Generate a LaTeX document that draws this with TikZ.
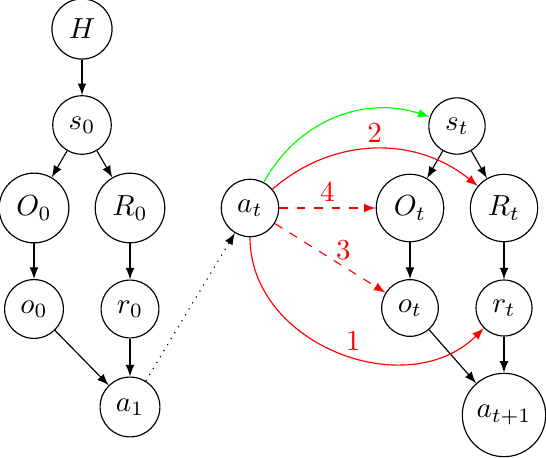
\documentclass[tikz,border=0pt]{standalone}
\usetikzlibrary{arrows}
\begin{document}
\begin{tikzpicture}[x=0.3448pt,y=-0.3448pt,
  vnode/.style={circle,draw,inner sep=0.3333em},
  arr/.style={-latex},
  lab/.style={red,inner sep=2pt}]
\useasboundingbox (0,0) rectangle (546,458);
% left chain
\node[vnode] (H)  at (82,29)  {$H$};
\node[vnode] (s0) at (82,125) {$s_0$};
\node[vnode] (O0) at (34,208) {$O_0$};
\node[vnode] (R0) at (130,208) {$R_0$};
\node[vnode] (o0) at (34,309) {$o_0$};
\node[vnode] (r0) at (130,309) {$r_0$};
\node[vnode] (a1) at (130,407) {$a_1$};
% right
\node[vnode] (at) at (250,208) {$a_t$};
\node[vnode] (st) at (457,126) {$s_t$};
\node[vnode] (Ot) at (410,208) {$O_t$};
\node[vnode] (Rt) at (504,208) {$R_t$};
\node[vnode] (ot) at (410,308) {$o_t$};
\node[vnode] (rt) at (504,308) {$r_t$};
\node[vnode] (at1) at (504,415) {$a_{t+1}$};
% edges left
\draw[arr] (H) -- (s0);
\draw[arr] (s0) -- (O0);
\draw[arr] (s0) -- (R0);
\draw[arr] (O0) -- (o0);
\draw[arr] (R0) -- (r0);
\draw[arr] (o0) -- (a1);
\draw[arr] (r0) -- (a1);
\draw[arr,dotted] (a1) -- (at);
% edges right
\draw[arr] (st) -- (Ot);
\draw[arr] (st) -- (Rt);
\draw[arr] (Ot) -- (ot);
\draw[arr] (Rt) -- (rt);
\draw[arr] (ot) -- (at1);
\draw[arr] (rt) -- (at1);
\draw[arr,green] (at) to[bend left=40] (st);
\draw[arr,red] (at) to[bend left=40] node[lab,above] {2} (Rt);
\draw[arr,red,dashed] (at) -- node[lab,above] {4} (Ot);
\draw[arr,red,dashed] (at) -- node[lab,pos=0.62,above] {3} (ot);
\draw[arr,red] (at) to[out=-90,in=-135,looseness=1.1] node[lab,pos=0.55,above] {1} (rt);
\end{tikzpicture}
\end{document}
